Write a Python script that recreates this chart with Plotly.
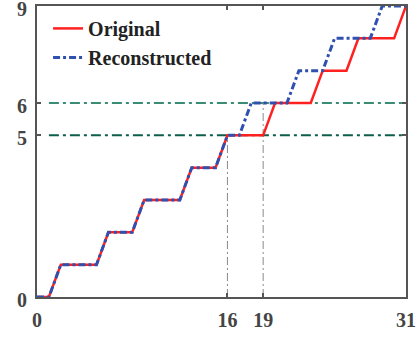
import plotly.graph_objects as go

orig_x = [0, 1, 2, 5, 6, 8, 9, 12, 13, 15, 16, 19, 20, 23, 24, 26, 27, 30, 31]
orig_y = [0, 0, 1, 1, 2, 2, 3, 3, 4, 4, 5, 5, 6, 6, 7, 7, 8, 8, 9]
recon_x = [0, 1, 2, 5, 6, 8, 9, 12, 13, 15, 16, 17, 18, 21, 22, 24, 25, 28, 29, 31]
recon_y = [0, 0, 1, 1, 2, 2, 3, 3, 4, 4, 5, 5, 6, 6, 7, 7, 8, 8, 9, 9]
hline_y = [5, 6]
hline_x = [1, 31]
vline_x = [16, 19]
x_ticks = [0, 16, 19, 31]
y_ticks = [0, 5, 6, 9]

FONT = "Liberation Serif"
fig = go.Figure()

hcolors = {5: "#0d5e4b", 6: "#3a8c74"}
for yv in hline_y:
    fig.add_trace(go.Scatter(x=hline_x, y=[yv, yv], mode="lines", showlegend=False,
                             line=dict(color=hcolors[yv], width=2, dash="10px,4px,3px,4px"),
                             hoverinfo="skip"))
for xv, yv in zip(vline_x, hline_y):
    fig.add_trace(go.Scatter(x=[xv, xv], y=[0, yv], mode="lines", showlegend=False,
                             line=dict(color="#8a8a8a", width=1, dash="8px,3px,2px,3px"),
                             hoverinfo="skip"))

fig.add_trace(go.Scatter(x=orig_x, y=orig_y, mode="lines", name="<b>Original</b>",
                         line=dict(color="#ff2020", width=2.5), cliponaxis=False))
fig.add_trace(go.Scatter(x=recon_x, y=recon_y, mode="lines", name="<b>Reconstructed</b>",
                         line=dict(color="#3050b0", width=3, dash="7px,3px,3px,3px"),
                         cliponaxis=False))

axis_common = dict(showgrid=False, zeroline=False, showline=True, linecolor="#555555",
                   linewidth=2, mirror="allticks", ticks="inside", ticklen=4,
                   tickwidth=1.5, tickcolor="#555555", automargin=False,
                   ticklabeloverflow="allow",
                   tickfont=dict(family=FONT, size=20, color="#444444"))

fig.update_layout(
    width=417, height=337,
    margin=dict(l=37, r=11, t=6, b=40),
    paper_bgcolor="white", plot_bgcolor="white",
    font=dict(family=FONT, size=20, color="#222222"),
    xaxis=dict(range=[0, 31], tickvals=x_ticks, ticktext=[f"<b>{v}</b>" for v in x_ticks],
               ticklabelstandoff=4, **axis_common),
    yaxis=dict(range=[0, 9], tickvals=y_ticks, ticktext=[f"<b>{v}</b>" for v in y_ticks],
               ticklabelstandoff=4, ticklabelshift=3, **axis_common),
    legend=dict(x=0.03, y=0.99, xanchor="left", yanchor="top", bgcolor="rgba(0,0,0,0)",
                font=dict(family=FONT, size=20, color="#222222"), tracegroupgap=0,
                itemwidth=30),
)

fig.write_html("out.html", config={"displayModeBar": False},
               post_script="document.body.style.margin='0';document.body.style.overflow='hidden';")
